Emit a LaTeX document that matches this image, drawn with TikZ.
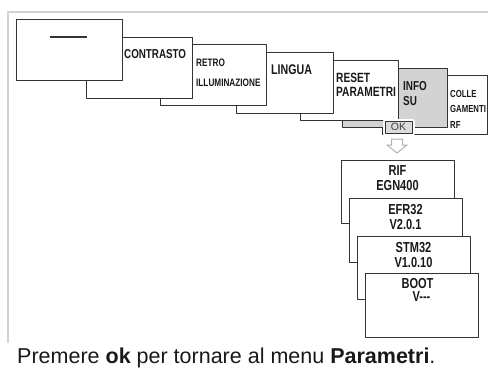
\documentclass[tikz,border=0pt]{standalone}
\usepackage{fontspec}
\setmainfont{Liberation Sans}
\newfontfamily\narrowfont{Liberation Sans}[FakeStretch=0.76]
\usetikzlibrary{calc}
\definecolor{framegrey}{HTML}{D2D2D2}
\definecolor{boxline}{HTML}{333333}
\definecolor{infogrey}{HTML}{D3D3D3}
\definecolor{okgrey}{HTML}{DCDCDC}
\definecolor{arrowgrey}{HTML}{B0B0B0}
\tikzset{
  every picture/.style={line join=round, line cap=round},
  screen/.style={draw=boxline, fill=white, line width=1pt, anchor=north west, inner sep=0pt, outer sep=0pt},
  menulbl/.style={font=\narrowfont\bfseries\fontsize{#1}{#1}\selectfont, anchor=base west, inner sep=0pt, text=black!90},
  vallbl/.style={font=\narrowfont\bfseries\fontsize{14.5}{15}\selectfont, anchor=base, inner sep=0pt, text=black!90},
  okbtn/.style={draw=boxline, fill=okgrey, line width=0.8pt, inner sep=0pt, outer sep=0pt,
    font=\fontsize{10.5}{12}\selectfont, text=black!75, preaction={draw=white, line width=5pt}},
  blockarrow/.style={draw=arrowgrey, fill=white, line width=1pt, line join=miter},
}

\begin{document}
\begin{tikzpicture}[x=1pt,y=-1pt]
\useasboundingbox (0,0) rectangle (488,376);
% frame
\draw[framegrey,line width=1.5pt,line cap=butt] (8,343)--(8,12)--(488,12);

% menu screens, first one on top
\node (colle) [screen,minimum width=105,minimum height=59] at (382,75) {};
\node (colle1) [menulbl=10.2] at (450,97) {COLLE};
\node (colle2) [menulbl=10.2] at (450,112) {GAMENTI};
\node (colle3) [menulbl=10.2] at (450,128) {RF};
\node (infosu) [screen,fill=infogrey,minimum width=105,minimum height=59] at (342,68) {};
\node (infosu1) [menulbl=13] at (403,90) {INFO};
\node (infosu2) [menulbl=13] at (403,105) {SU};
\node (reset) [screen,minimum width=98,minimum height=60] at (300,60) {};
\node (reset1) [menulbl=13.4] at (336,82) {RESET};
\node (reset2) [menulbl=13.4] at (336,96) {PARAMETRI};
\node (lingua) [screen,minimum width=97,minimum height=61] at (236,52) {};
\node (lingua1) [menulbl=14] at (271,74) {LINGUA};
\node (retro) [screen,minimum width=106,minimum height=61] at (160,44) {};
\node (retro1) [menulbl=10.8] at (196,66) {RETRO};
\node (retro2) [menulbl=10.8] at (196,86) {ILLUMINAZIONE};
\node (contrasto) [screen,minimum width=106,minimum height=61] at (86,37) {};
\node (contrasto1) [menulbl=12.9] at (124,58) {CONTRASTO};
\node (blank) [screen,minimum width=106,minimum height=61] at (16,19) {};
\node (dash) [anchor=west,inner sep=0pt,text=boxline] at (50,37) {\rule{37pt}{1.3pt}};

% ok button and arrow
\node (ok) [okbtn,minimum width=27,minimum height=12] at (398.5,127) {OK};
\coordinate (arrtop) at ($(ok.south)+(-1.5,6)$);
\draw[blockarrow] (arrtop) ++(-5.5,0) -- ++(0,6) -- ++(-4.5,0) -- ++(10,8) -- ++(10,-8)
  -- ++(-4.5,0) -- ++(0,-6) -- cycle;

% info screens, last one on top
\node (rif) [screen,minimum width=113,minimum height=63] at (341,160) {};
\node (rif1) [vallbl] at ([yshift=-15pt]rif.north) {RIF};
\node (rif2) [vallbl] at ([yshift=-30pt]rif.north) {EGN400};
\node (efr) [screen,minimum width=113,minimum height=64] at (349,198) {};
\node (efr1) [vallbl] at ([yshift=-16pt]efr.north) {EFR32};
\node (efr2) [vallbl] at ([yshift=-31pt]efr.north) {V2.0.1};
\node (stm) [screen,minimum width=113,minimum height=63] at (357,236) {};
\node (stm1) [vallbl] at ([yshift=-16pt]stm.north) {STM32};
\node (stm2) [vallbl] at ([yshift=-31pt]stm.north) {V1.0.10};
\node (boot) [screen,minimum width=113,minimum height=64] at (365,273) {};
\node (boot1) [vallbl] at ([xshift=-4pt,yshift=-15pt]boot.north) {BOOT};
\node (boot2) [vallbl] at ([yshift=-28pt]boot.north) {V---};

% caption
\node (caption) [anchor=base west,inner sep=0pt,font=\fontsize{21.5}{24}\selectfont,text=black!90]
  at (17,363) {Premere \textbf{ok} per tornare al menu \textbf{Parametri}.};
\end{tikzpicture}
\end{document}
